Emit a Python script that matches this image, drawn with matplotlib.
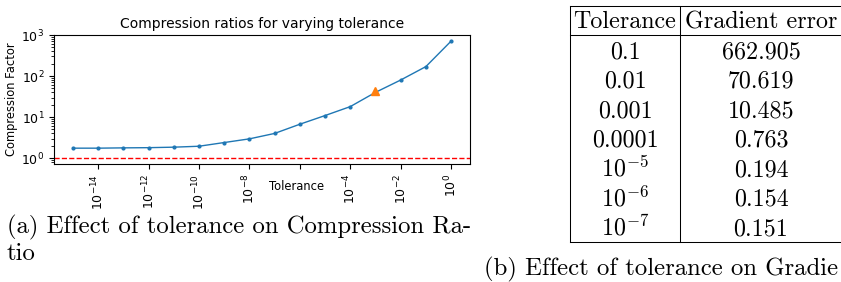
import numpy as np
import matplotlib
matplotlib.use("Agg")
import matplotlib.pyplot as plt

# compression factor per tolerance
tol_exp = list(range(-15, 1))
comp_factor = [1.75, 1.75, 1.78, 1.8, 1.85, 1.95, 2.4, 2.95, 4.0,
               6.7, 10.9, 18.0, 40.0, 80.0, 170.0, 710.0]
chosen_tol = 1e-3
chosen_factor = 43.0

xtick_exp = [-14, -12, -10, -8, -6, -4, -2, 0]
xtick_labels = [r"$10^{-14}$", r"$10^{-12}$", r"$10^{-10}$", r"$10^{-8}$", "",
                r"$10^{-4}$", r"$10^{-2}$", r"$10^{0}$"]

# table (b)
table_tol = ["0.1", "0.01", "0.001", "0.0001",
             r"$10^{-5}$", r"$10^{-6}$", r"$10^{-7}$"]
table_err = ["662.905", "70.619", "10.485", "0.763", "0.194", "0.154", "0.151"]

W, H = 841, 282
fig = plt.figure(figsize=(W / 100, H / 100), dpi=100)

def fx(px):
    return px / W

def fy(py):
    return 1 - py / H

ax = fig.add_axes([fx(54), fy(164), fx(470 - 54), (164 - 35) / H])
tol = [10.0 ** e for e in tol_exp]
ax.plot(tol, comp_factor, marker=".", markersize=4, lw=1, color="tab:blue")
ax.plot([chosen_tol], [chosen_factor], marker="^", markersize=6,
        color="tab:orange", ls="none")
ax.axhline(1, color="red", ls="--", lw=1)
ax.set_xscale("log")
ax.set_yscale("log")
ax.set_xlim(10 ** -15.75, 10 ** 0.75)
ax.set_ylim(0.72, 1000)
ax.set_xticks([10.0 ** e for e in xtick_exp])
ax.set_xticklabels(xtick_labels, rotation=90, fontsize=9)
ax.xaxis.set_minor_locator(matplotlib.ticker.NullLocator())
ax.tick_params(axis="y", labelsize=9)
ax.set_title("Compression ratios for varying tolerance", fontsize=10, pad=5)
ax.set_ylabel("Compression Factor", fontsize=8.3, labelpad=2)
ax.set_xlabel("Tolerance", fontsize=8.3, va="center")
ax.xaxis.set_label_coords((297 - 54) / 416, (164 - 187) / 129)

# captions and table in Computer Modern
cm = dict(family="cmr10", fontsize=17.8, math_fontfamily="cm")
cm_tab = dict(cm, fontsize=17.3)
fig.text(fx(7), fy(233), "(a) Effect of tolerance on Compression Ra-",
         ha="left", va="baseline", **cm)
fig.text(fx(7), fy(260), "tio", ha="left", va="baseline", **cm)
fig.text(fx(484), fy(275), "(b) Effect of tolerance on Gradie",
         ha="left", va="baseline", **cm)

x_left, x_mid, x_right = 570, 680, 860
y_top, y_head, y_bot = 6, 35, 242
line_kw = dict(color="black", lw=0.75, transform=fig.transFigure)
for yy in (y_top, y_head, y_bot):
    fig.add_artist(plt.Line2D([fx(x_left), fx(x_right)], [fy(yy), fy(yy)], **line_kw))
for xx in (x_left, x_mid):
    fig.add_artist(plt.Line2D([fx(xx), fx(xx)], [fy(y_top), fy(y_bot)], **line_kw))

c1 = (x_left + x_mid) / 2
c2 = 761
fig.text(fx(c1), fy(28.5), "Tolerance", ha="center", va="baseline", **cm_tab)
fig.text(fx(c2), fy(28.5), "Gradient error", ha="center", va="baseline", **cm_tab)
pitch = (y_bot - y_head) / len(table_tol)
for i, (t, e) in enumerate(zip(table_tol, table_err)):
    base = y_head + pitch * (i + 1) - 6.5
    fig.text(fx(c1), fy(base), t, ha="center", va="baseline", **cm_tab)
    fig.text(fx(c2), fy(base), e, ha="center", va="baseline", **cm_tab)

fig.savefig("out.png", dpi=100)
